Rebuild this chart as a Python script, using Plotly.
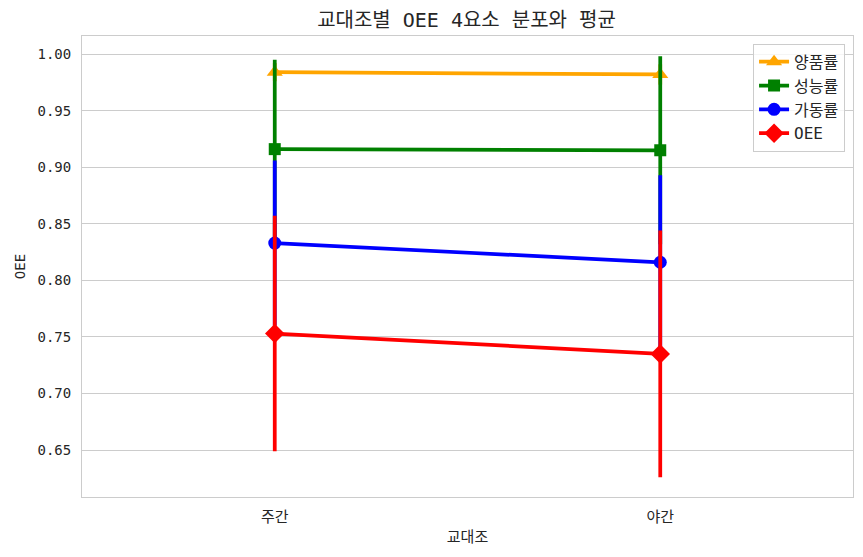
import plotly.graph_objects as go

shifts = ["주간", "야간"]
series_names = ["양품률", "성능률", "가동률", "OEE"]
yield_mean = [0.984, 0.982]
yield_sd = [0.008, 0.009]
perf_mean = [0.916, 0.915]
perf_sd = [0.079, 0.083]
avail_mean = [0.833, 0.816]
avail_sd = [0.073, 0.077]
oee_mean = [0.753, 0.735]
oee_sd = [0.104, 0.109]

means = [yield_mean, perf_mean, avail_mean, oee_mean]
sds = [yield_sd, perf_sd, avail_sd, oee_sd]
colors = ["orange", "green", "blue", "red"]
symbols = ["triangle-up", "square", "circle", "diamond"]
sizes = [14, 12, 13, 15]

FONT = "DejaVu Sans Mono, Noto Sans CJK KR"
fig = go.Figure()
for name, m, s, c, sym, sz in zip(series_names, means, sds, colors, symbols, sizes):
    fig.add_trace(go.Scatter(
        x=shifts, y=m, name=name, mode="lines+markers",
        line=dict(color=c, width=3.75),
        marker=dict(color=c, symbol=sym, size=sz),
        error_y=dict(type="data", array=s, visible=True, color=c, thickness=3.75, width=0),
    ))

fig.update_layout(
    width=863, height=557,
    margin=dict(l=70, r=18, t=28, b=68),
    paper_bgcolor="white", plot_bgcolor="white",
    font=dict(family=FONT, color="#262626", size=14),
    title=dict(text="교대조별 OEE 4요소 분포와 평균", x=(305 + 628) / 2 / 863 - 8 / 863, xanchor="center",
               y=1 - 12 / 557, yanchor="middle",
               font=dict(size=20, family=FONT, color="#262626")),
    xaxis=dict(title=dict(text="교대조", font=dict(size=15), standoff=6), range=[-0.5, 1.5],
               showgrid=False, showline=True, linecolor="#cccccc", linewidth=1, mirror=True,
               tickfont=dict(size=15), ticks="", ticklabelstandoff=6, zeroline=False),
    yaxis=dict(title=dict(text="OEE", font=dict(size=14), standoff=8), range=[0.6085, 1.016],
               tickvals=[0.65, 0.70, 0.75, 0.80, 0.85, 0.90, 0.95, 1.00], tickformat=".2f",
               showgrid=True, gridcolor="#cccccc", gridwidth=1,
               showline=True, linecolor="#cccccc", linewidth=1, mirror=True,
               tickfont=dict(size=14), ticks="", ticklabelstandoff=7, zeroline=False),
    legend=dict(x=0.9897, y=0.983, xanchor="right", yanchor="top",
                bgcolor="rgba(255,255,255,0.8)", bordercolor="#cccccc", borderwidth=1,
                font=dict(size=16), itemwidth=30, tracegroupgap=0),
    showlegend=True,
)

fig.write_html("out.html")
